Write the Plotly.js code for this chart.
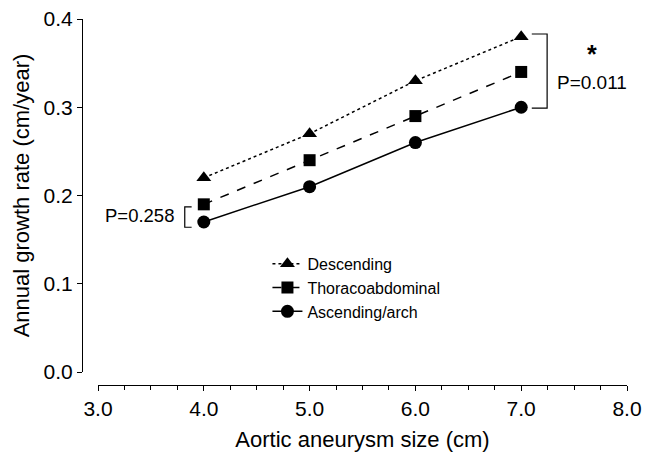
<!DOCTYPE html>
<html>
<head>
<meta charset="utf-8">
<script src="https://cdn.plot.ly/plotly-3.0.1.min.js"></script>
<style>
  body { margin: 0; background: #fff; }
  #plot { width: 646px; height: 457px; }
</style>
</head>
<body>
<div id="plot"></div>
<script>
const sizes = [4.0, 5.0, 6.0, 7.0];
const descending = [0.22, 0.27, 0.33, 0.38];
const thoracoabdominal = [0.19, 0.24, 0.29, 0.34];
const ascendingArch = [0.17, 0.21, 0.26, 0.30];
const seriesNames = ['Descending', 'Thoracoabdominal', 'Ascending/arch'];
const xTicks = [3, 4, 5, 6, 7, 8];
const xTickLabels = ['3.0', '4.0', '5.0', '6.0', '7.0', '8.0'];
const yTicks = [0, 0.1, 0.2, 0.3, 0.4];
const yTickLabels = ['0.0', '0.1', '0.2', '0.3', '0.4'];

function drawChart() {
    const font = 'Liberation Sans, Arial, Helvetica, sans-serif';

    let traceDesc = {
        x: sizes, y: descending, name: seriesNames[0],
        type: 'scatter', mode: 'lines+markers',
        line: { color: '#000', width: 1.5, dash: 'dot' },
        marker: { symbol: 'triangle-up', size: 13, color: '#000' },
        cliponaxis: false
    };
    let traceThor = {
        x: sizes, y: thoracoabdominal, name: seriesNames[1],
        type: 'scatter', mode: 'lines+markers',
        line: { color: '#000', width: 1.5, dash: 'dash' },
        marker: { symbol: 'square', size: 12, color: '#000' },
        cliponaxis: false
    };
    let traceAsc = {
        x: sizes, y: ascendingArch, name: seriesNames[2],
        type: 'scatter', mode: 'lines+markers',
        line: { color: '#000', width: 1.5 },
        marker: { symbol: 'circle', size: 13, color: '#000' },
        cliponaxis: false
    };

    let layout = {
        width: 646, height: 457,
        margin: { l: 0, r: 0, t: 0, b: 0 },
        paper_bgcolor: '#fff', plot_bgcolor: '#fff',
        font: { family: font, color: '#000', size: 21 },
        showlegend: true,
        legend: {
            x: 0.414, y: 0.46, xanchor: 'left', yanchor: 'top',
            bgcolor: 'rgba(0,0,0,0)', font: { size: 16 }, tracegroupgap: 0
        },
        xaxis: {
            domain: [98 / 646, 627 / 646],
            range: [3, 8],
            anchor: 'free', position: 1 - 385 / 457,
            showgrid: false, zeroline: false,
            showline: true, linecolor: '#000', linewidth: 1,
            ticks: 'outside', ticklen: 5, tickcolor: '#000',
            tickvals: xTicks, ticktext: xTickLabels,
            minor: { dtick: 0.25, ticks: 'outside', ticklen: 4, tickcolor: '#000' },
            title: { text: 'Aortic aneurysm size (cm)', font: { size: 22 }, standoff: 12 }
        },
        yaxis: {
            domain: [1 - 372 / 457, 1 - 19 / 457],
            range: [0, 0.4],
            anchor: 'free', position: 82 / 646,
            showgrid: false, zeroline: false,
            showline: true, linecolor: '#000', linewidth: 1,
            ticks: 'outside', ticklen: 5, tickcolor: '#000',
            tickvals: yTicks, ticktext: yTickLabels,
            title: { text: 'Annual growth rate (cm/year)', font: { size: 22 }, standoff: 6 }
        },
        shapes: [
            {
                type: 'path', xref: 'x', yref: 'y',
                path: 'M7.10,0.383 L7.245,0.383 L7.245,0.299 L7.10,0.299',
                line: { color: '#000', width: 1.2 }
            },
            {
                type: 'path', xref: 'x', yref: 'y',
                path: 'M3.885,0.187 L3.82,0.187 L3.82,0.164 L3.885,0.164',
                line: { color: '#000', width: 1.2 }
            }
        ],
        annotations: [
            { x: 7.67, y: 0.3275, xref: 'x', yref: 'y', text: 'P=0.011', showarrow: false, font: { size: 19 } },
            { x: 7.67, y: 0.36, xref: 'x', yref: 'y', text: '<b>*</b>', showarrow: false, font: { size: 25 } },
            { x: 3.39, y: 0.177, xref: 'x', yref: 'y', text: 'P=0.258', showarrow: false, font: { size: 18.5 } }
        ]
    };

    Plotly.newPlot('plot', [traceDesc, traceThor, traceAsc], layout, { displayModeBar: false, staticPlot: true });
}

drawChart();
</script>
</body>
</html>
